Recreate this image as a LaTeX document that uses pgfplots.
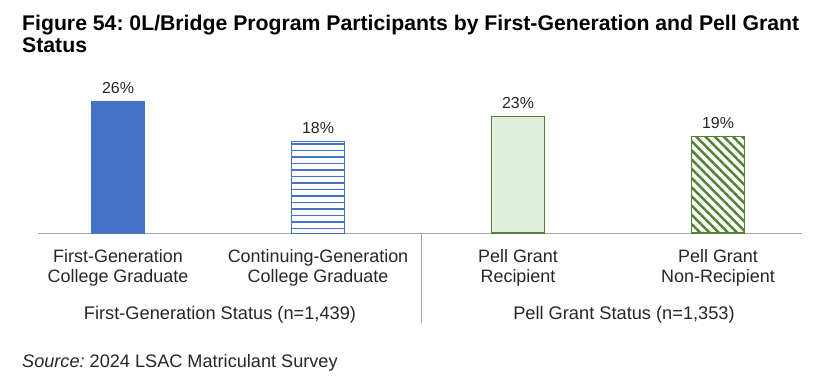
\documentclass[border=0pt]{standalone}
\usepackage{fontspec}
\setmainfont{Liberation Sans}
\usepackage{pgfplots}
\pgfplotsset{compat=1.18}
\usetikzlibrary{patterns.meta}
\definecolor{cblue}{HTML}{4472C4}
\definecolor{cgreen}{HTML}{548235}
\definecolor{lgreen}{HTML}{E2EFDA}
\definecolor{txt}{HTML}{262626}
\definecolor{axgray}{HTML}{A6A6A6}
\pgfdeclarepatternformonly{hlineswide}{\pgfpoint{-1bp}{-1bp}}{\pgfpoint{41bp}{5.5bp}}{\pgfpoint{40bp}{6.5bp}}{%
  \pgfsetlinewidth{1.1bp}%
  \pgfpathmoveto{\pgfpoint{-1bp}{0bp}}\pgfpathlineto{\pgfpoint{41bp}{0bp}}\pgfusepath{stroke}}
\frenchspacing
\begin{document}
\begin{tikzpicture}[x=1bp,y=1bp]
\useasboundingbox (0,0) rectangle (830,378);
\node[anchor=base west, inner sep=0pt, font=\fontsize{21.3}{24}\selectfont\bfseries] at (22,348) {Figure 54: 0L/Bridge Program Participants by First-Generation and Pell Grant};
\node[anchor=base west, inner sep=0pt, font=\fontsize{21.3}{24}\selectfont\bfseries] at (22,326) {Status};
\begin{axis}[
  at={(38bp,145bp)}, anchor=south west, scale only axis,
  width=764bp, height=152.1bp,
  xmin=-0.4, xmax=3.42, ymin=0, ymax=30,
  axis x line*=bottom, axis y line=none,
  x axis line style={-, draw=axgray, line width=1bp},
  xtick={0,1,2,3}, major tick length=0pt,
  xticklabels={{First-Generation\\College Graduate},{Continuing-Generation\\College Graduate},{Pell Grant\\Recipient},{Pell Grant\\Non-Recipient}},
  xticklabel style={align=center, font=\fontsize{18}{20}\selectfont, text=txt, inner sep=0pt, yshift=-16bp},
  /pgf/number format/assume math mode=true,
  ybar, bar width=53bp, bar shift=0pt,
  nodes near coords={\pgfmathprintnumber{\pgfplotspointmeta}\%},
  every node near coord/.append style={font=\fontsize{16}{18}\selectfont, text=txt, anchor=base, inner sep=0pt, yshift=8bp},
  clip=false,
]
\addplot[fill=cblue, draw=cblue] coordinates {(0,26)};
\addplot[draw=cblue, line width=1bp, pattern=hlineswide, pattern color=cblue] coordinates {(1,18)};
\addplot[draw=cgreen, line width=1.5bp, fill=lgreen] coordinates {(2,23)};
\addplot[draw=cgreen, line width=1.5bp, pattern={Lines[angle=-45,distance=6.5bp,line width=2.5bp]}, pattern color=cgreen] coordinates {(3,19)};
\draw[axgray, line width=1bp] (axis cs:1.515,0) -- ++(0bp,-90bp);
\node[anchor=base, inner sep=0pt, font=\fontsize{18.3}{20}\selectfont, text=txt, yshift=-86bp] at (axis cs:0.51,0) {First-Generation Status (n=1,439)};
\node[anchor=base, inner sep=0pt, font=\fontsize{18.3}{20}\selectfont, text=txt, yshift=-86bp] at (axis cs:2.53,0) {Pell Grant Status (n=1,353)};
\end{axis}
\node[anchor=base west, inner sep=0pt, font=\fontsize{18.2}{20}\selectfont, text=txt] at (22,11) {\textit{Source:} 2024 LSAC Matriculant Survey};
\end{tikzpicture}
\end{document}
